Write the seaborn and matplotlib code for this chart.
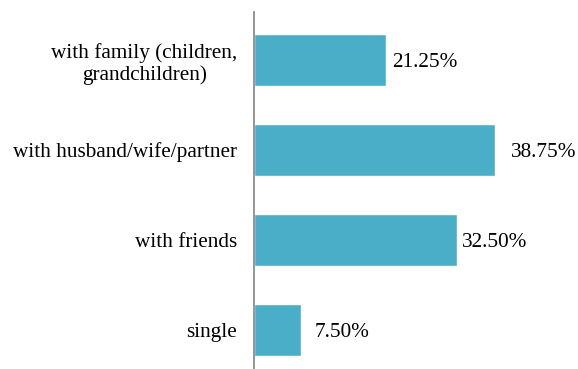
import matplotlib
matplotlib.use("Agg")
import matplotlib.pyplot as plt
import seaborn as sns
import pandas as pd

categories = ["with family (children,\ngrandchildren)", "with husband/wife/partner", "with friends", "single"]
values = [21.25, 38.75, 32.50, 7.50]
labels = ["21.25%", "38.75%", "32.50%", "7.50%"]

# label placement styling (pixels right of bar end)
label_pads = [4, 11, 4, 10]

sns.set_style("white")
plt.rcParams['font.family'] = ['Liberation Serif', 'DejaVu Serif']

df = pd.DataFrame({"cat": categories, "val": values})

fig = plt.figure(figsize=(5.78, 3.69), dpi=100)
ax = fig.add_axes([254/578, 0, 1 - 254/578, (369-12)/369])
sns.barplot(data=df, y="cat", x="val", color="#4BAEC8", width=0.57, ax=ax, saturation=1, orient="h")
ax.set_xlim(0, 52)
ax.set_ylim(3.433, -0.533)
ax.set_xlabel("")
ax.set_ylabel("")
ax.set_xticks([])
for s in ["top", "right", "bottom"]:
    ax.spines[s].set_visible(False)
ax.spines["left"].set_color("#8c8c8c")
ax.spines["left"].set_linewidth(1.3)
ax.tick_params(axis="y", length=0, pad=12, labelsize=15.3, labelcolor="black")
for lab in ax.get_yticklabels():
    lab.set_horizontalalignment("right")
    lab.set_multialignment("center")
for i, (v, t, p) in enumerate(zip(values, labels, label_pads)):
    ax.annotate(t, (v, i), xytext=(p, -2), textcoords="offset points", va="center", ha="left",
                fontsize=15.3, color="black")
fig.savefig("out.png", dpi=100)
